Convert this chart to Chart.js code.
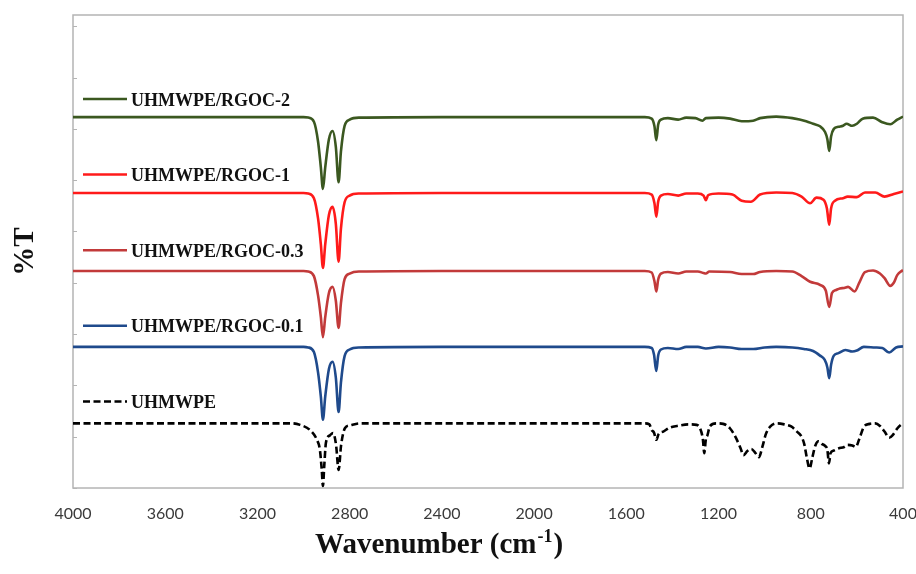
<!DOCTYPE html>
<html>
<head>
<meta charset="utf-8">
<script src="https://cdn.jsdelivr.net/npm/chart.js@4.4.1/dist/chart.umd.min.js"></script>
<style>
  html, body { margin: 0; padding: 0; background: #fff; }
  #wrap { width: 916px; height: 574px; position: relative; }
</style>
</head>
<body>
<div id="wrap"><canvas id="ftirChart"></canvas></div>
<script>
// axis ticks
const xTicks = [4000, 3600, 3200, 2800, 2400, 2000, 1600, 1200, 800, 400];
const yTicks = [0, 10, 20, 30, 40, 50, 60, 70, 80, 90];

const seriesNames = ['UHMWPE/RGOC-2', 'UHMWPE/RGOC-1', 'UHMWPE/RGOC-0.3', 'UHMWPE/RGOC-0.1', 'UHMWPE'];

// [wavenumber, %T (offset)]
const rgoc2 = [
  [4000, 72.3], [3500, 72.3], [3000, 72.3], [2980, 72.2], [2955, 71.4], [2937, 67.5], [2925, 62.5],
  [2916, 58.3], [2906, 62.5], [2890, 68], [2874, 69.6], [2860, 66.5], [2848, 59.6], [2838, 65.5],
  [2822, 70.6], [2800, 71.8], [2760, 72.2], [2400, 72.3], [2000, 72.3], [1520, 72.3], [1490, 72],
  [1478, 70.5], [1470, 67.8], [1462, 70.8], [1450, 71.8], [1420, 72.1], [1375, 71.8], [1340, 72.2],
  [1300, 72.1], [1270, 71.6], [1255, 72.1], [1200, 72.2], [1150, 72], [1100, 71.5], [1050, 71.6],
  [1020, 72.1], [950, 72.4], [880, 72.1], [820, 71.5], [790, 71], [760, 70.5], [738, 69.4], [728, 68],
  [720, 65.7], [712, 68.5], [700, 70], [680, 70.4], [660, 70.6], [645, 71], [620, 70.6], [600, 71],
  [575, 72], [530, 72.2], [490, 71.3], [455, 70.9], [425, 71.8], [400, 72.4]
];
const rgoc1 = [
  [4000, 57.5], [3500, 57.5], [3000, 57.5], [2980, 57.4], [2955, 56.5], [2937, 52.5], [2925, 47.5],
  [2916, 42.9], [2906, 47.5], [2890, 53.2], [2874, 54.8], [2860, 51.5], [2848, 44.1], [2838, 50.5],
  [2822, 55.7], [2800, 57], [2760, 57.4], [2400, 57.5], [2000, 57.5], [1520, 57.5], [1490, 57.2],
  [1478, 55.5], [1470, 52.9], [1462, 55.8], [1450, 57], [1420, 57.3], [1375, 57], [1340, 57.4],
  [1290, 57.4], [1265, 57], [1255, 56.1], [1245, 57.1], [1200, 57.4], [1140, 57.2], [1100, 56],
  [1060, 55.8], [1020, 57.2], [950, 57.6], [880, 57.5], [840, 56.8], [803, 55.5], [775, 56.6],
  [745, 56.2], [730, 54.5], [720, 51.3], [712, 54.5], [695, 56], [660, 56.5], [640, 56.8], [600, 56.7],
  [565, 57.6], [520, 57.6], [480, 56.8], [440, 57.3], [400, 57.8]
];
const rgoc03 = [
  [4000, 42.3], [3500, 42.3], [3000, 42.3], [2980, 42.2], [2955, 41.3], [2937, 37.5], [2925, 33.3],
  [2916, 29.4], [2906, 33.3], [2890, 38], [2874, 39.2], [2860, 36.5], [2848, 31.2], [2838, 36],
  [2822, 40.7], [2800, 41.8], [2760, 42.2], [2400, 42.3], [2000, 42.3], [1520, 42.3], [1490, 42],
  [1478, 40.3], [1470, 38.3], [1462, 40.6], [1450, 41.8], [1420, 42.1], [1375, 41.8], [1340, 42.2],
  [1290, 42.2], [1265, 41.9], [1255, 41.8], [1240, 42.2], [1150, 42.1], [1100, 41.7], [1050, 41.7],
  [1020, 42.1], [950, 42.3], [880, 42.2], [840, 41.3], [803, 40.2], [760, 39.6], [735, 38.5],
  [720, 35.3], [708, 38], [690, 38.6], [674, 38.9], [655, 39], [638, 39.2], [610, 38.3], [590, 40],
  [565, 42.1], [530, 42.4], [500, 41.8], [480, 40.9], [455, 39.4], [440, 40], [425, 41.5], [400, 42.5]
];
const rgoc01 = [
  [4000, 27.5], [3500, 27.5], [3000, 27.5], [2980, 27.4], [2955, 26.5], [2937, 22.5], [2925, 17.8],
  [2916, 13.3], [2906, 17.8], [2890, 23.2], [2874, 24.6], [2860, 21.5], [2848, 14.8], [2838, 20.5],
  [2822, 25.7], [2800, 27], [2760, 27.4], [2400, 27.5], [2000, 27.5], [1520, 27.5], [1490, 27.3],
  [1480, 26], [1470, 22.8], [1462, 25.8], [1450, 27], [1420, 27.3], [1375, 27.1], [1340, 27.5],
  [1290, 27.5], [1255, 27.2], [1200, 27.5], [1150, 27.4], [1100, 27.1], [1050, 27.1], [1000, 27.4],
  [950, 27.5], [880, 27.4], [830, 27.1], [790, 26.7], [760, 25.8], [740, 25], [728, 23.5], [720, 21.4],
  [712, 24], [700, 25.8], [680, 26.3], [650, 26.9], [620, 26.6], [600, 26.8], [570, 27.5], [520, 27.4],
  [490, 27.3], [460, 26.4], [430, 27.4], [400, 27.6]
];
const neat = [
  [4000, 12.6], [3500, 12.6], [3050, 12.6], [3015, 12.3], [2972, 11.3], [2942, 9.4], [2929, 7.4],
  [2921, 3.5], [2916, 0.4], [2910, 4.5], [2903, 8.8], [2885, 10.3], [2872, 10.7], [2859, 8.4],
  [2848, 3.5], [2837, 8.4], [2820, 11.7], [2799, 12.2], [2755, 12.6], [2400, 12.6], [2000, 12.6],
  [1520, 12.6], [1500, 12.4], [1490, 11.3], [1480, 10.8], [1470, 9.4], [1460, 10.5], [1440, 11],
  [1410, 11.8], [1380, 12.1], [1330, 12.4], [1295, 12.3], [1280, 11.6], [1268, 9.5], [1262, 6.8],
  [1255, 9.5], [1248, 10.3], [1238, 12], [1210, 12.6], [1180, 12.5], [1150, 11.6], [1125, 9.8],
  [1105, 7.8], [1092, 6.4], [1075, 7.2], [1058, 7.6], [1040, 6.8], [1025, 6], [1010, 8], [995, 10.5],
  [975, 12], [945, 12.6], [915, 12.4], [885, 12], [860, 11], [840, 10], [828, 8.5], [818, 6.1],
  [805, 3.8], [793, 6], [780, 8.3], [766, 9.1], [752, 8.6], [738, 8.2], [728, 7.4], [721, 4.8],
  [714, 6.8], [700, 7.3], [680, 7.7], [655, 8], [640, 8.4], [620, 8.3], [605, 8], [590, 9.5],
  [570, 11.9], [545, 12.5], [520, 12.6], [500, 12.1], [480, 11], [460, 9.8], [445, 10.3], [425, 11.6],
  [410, 12.3], [400, 12.6]
];

const seriesData = [rgoc2, rgoc1, rgoc03, rgoc01, neat];
const seriesColors = ['#3b5820', '#ff1a1a', '#c23a3a', '#1f4a8c', '#000000'];
const seriesDash = [[], [], [], [], [7, 3.5]];

const serif = '"Liberation Serif", "Times New Roman", serif';

// frame + small y tick marks inside the plot
const framePlugin = {
  id: 'frame',
  beforeDatasetsDraw(chart) {
    const { ctx, chartArea: a } = chart;
    const y = chart.scales.y;
    ctx.save();
    ctx.strokeStyle = '#b4b4b4';
    ctx.lineWidth = 1.5;
    ctx.strokeRect(a.left, a.top, a.right - a.left, a.bottom - a.top);
    ctx.lineWidth = 1;
    y.ticks.forEach(t => {
      const py = Math.round(y.getPixelForValue(t.value)) + 0.5;
      ctx.beginPath();
      ctx.moveTo(a.left, py);
      ctx.lineTo(a.left + 4, py);
      ctx.stroke();
    });
    ctx.restore();
  }
};

// legend drawn inside the plot, one entry above each trace
const insideLegend = {
  id: 'insideLegend',
  afterDatasetsDraw(chart) {
    const { ctx, chartArea: a } = chart;
    ctx.save();
    chart.data.datasets.forEach((ds, i) => {
      const ly = a.top + 84 + i * 75.6;
      ctx.strokeStyle = ds.borderColor;
      ctx.lineWidth = 2.5;
      ctx.setLineDash(ds.borderDash || []);
      ctx.beginPath();
      ctx.moveTo(a.left + 10, ly);
      ctx.lineTo(a.left + 54, ly);
      ctx.stroke();
      ctx.setLineDash([]);
      ctx.fillStyle = '#111';
      ctx.font = 'bold 18px ' + serif;
      ctx.textBaseline = 'alphabetic';
      ctx.fillText(ds.label, a.left + 58, ly + 6.5);
    });
    ctx.restore();
  }
};

// x axis title with a real superscript
const xTitle = {
  id: 'xTitle',
  afterDraw(chart) {
    const { ctx, chartArea: a } = chart;
    const base = 553;
    let x = a.left + 242;
    ctx.save();
    ctx.fillStyle = '#111';
    ctx.textBaseline = 'alphabetic';
    ctx.font = 'bold 29px ' + serif;
    ctx.fillText('Wavenumber (cm', x, base);
    x += ctx.measureText('Wavenumber (cm').width;
    ctx.font = 'bold 18px ' + serif;
    ctx.fillText('-1', x + 1, base - 11);
    x += ctx.measureText('-1').width + 2;
    ctx.font = 'bold 29px ' + serif;
    ctx.fillText(')', x, base);
    ctx.restore();
  }
};

new Chart(document.getElementById('ftirChart'), {
  type: 'line',
  data: {
    datasets: seriesData.map((s, i) => ({
      label: seriesNames[i],
      data: s.map(p => ({ x: p[0], y: p[1] })),
      borderColor: seriesColors[i],
      borderDash: seriesDash[i],
      borderWidth: 2.6,
      pointRadius: 0,
      fill: false,
      cubicInterpolationMode: 'monotone'
    }))
  },
  options: {
    responsive: true,
    maintainAspectRatio: false,
    animation: false,
    layout: { padding: { top: 15, right: 13, left: 0, bottom: 0 } },
    plugins: { legend: { display: false }, tooltip: { enabled: false } },
    scales: {
      x: {
        type: 'linear',
        reverse: true,
        min: 400,
        max: 4000,
        afterBuildTicks: s => { s.ticks = xTicks.map(v => ({ value: v })); },
        afterFit: s => { s.height = 86; s.paddingLeft = 0; s.paddingRight = 0; },
        grid: { display: false, drawTicks: false },
        border: { display: false },
        ticks: {
          padding: 16,
          color: '#3a3a3a',
          font: { family: 'Lato', size: 16 },
          maxRotation: 0,
          callback: v => String(v)
        }
      },
      y: {
        min: 0,
        max: 92.2,
        afterBuildTicks: s => { s.ticks = yTicks.map(v => ({ value: v })); },
        afterFit: s => { s.width = 73; },
        grid: { display: false },
        border: { display: false },
        ticks: { display: false },
        title: {
          display: true,
          text: '%T',
          color: '#111',
          padding: { top: 8, bottom: 0 },
          font: { family: serif, size: 29, weight: 'bold' }
        }
      }
    }
  },
  plugins: [framePlugin, insideLegend, xTitle]
});
</script>
</body>
</html>
